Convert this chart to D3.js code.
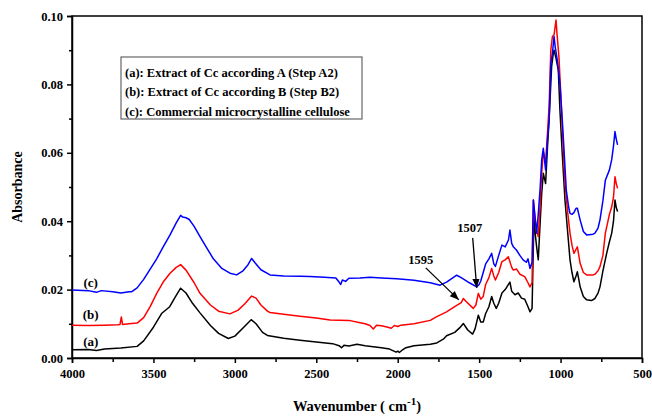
<!DOCTYPE html>
<html>
<head>
<meta charset="utf-8">
<script src="https://cdn.jsdelivr.net/npm/d3@7"></script>
<style>
  body { margin: 0; background: #fff; }
  text { font-family: "Liberation Serif", "Times New Roman", serif; font-weight: bold; }
</style>
</head>
<body>
<script>
const width = 652;
const height = 416;
const margin = {top: 16, right: 10, bottom: 58, left: 72};

// [wavenumber, absorbance]
const curveA = [
  [4000,0.0024],[3900,0.0025],[3850,0.0022],[3800,0.0026],[3700,0.0029],[3600,0.0034],[3560,0.0050],
  [3500,0.0090],[3450,0.0130],[3400,0.0150],[3370,0.0175],[3333,0.0204],[3300,0.0190],[3260,0.0160],
  [3214,0.0132],[3150,0.0095],[3100,0.0072],[3040,0.0057],[3000,0.0064],[2950,0.0088],[2900,0.0112],
  [2870,0.0100],[2830,0.0075],[2800,0.0066],[2700,0.0058],[2600,0.0052],[2500,0.0047],[2400,0.0042],
  [2360,0.0036],[2345,0.0030],[2330,0.0037],[2300,0.0035],[2250,0.0040],[2200,0.0036],[2150,0.0033],
  [2100,0.0030],[2050,0.0026],[2010,0.0017],[2000,0.0020],[1990,0.0016],[1970,0.0024],[1950,0.0030],
  [1900,0.0036],[1800,0.0040],[1760,0.0044],[1720,0.0055],[1700,0.0065],[1650,0.0075],[1620,0.0088],
  [1597,0.0101],[1570,0.0082],[1540,0.0070],[1525,0.0085],[1505,0.0125],[1490,0.0105],[1475,0.0105],
  [1460,0.0130],[1440,0.0150],[1423,0.0180],[1410,0.0160],[1395,0.0145],[1380,0.0160],[1360,0.0190],
  [1340,0.0200],[1320,0.0215],[1311,0.0222],[1300,0.0195],[1280,0.0185],[1260,0.0190],[1240,0.0175],
  [1220,0.0172],[1200,0.0150],[1188,0.0135],[1175,0.0145],[1163,0.0423],[1155,0.0360],[1147,0.0325],
  [1137,0.0287],[1125,0.0400],[1116,0.0480],[1106,0.0540],[1092,0.0510],[1080,0.0620],[1070,0.0700],
  [1055,0.0852],[1045,0.0890],[1040,0.0900],[1028,0.0876],[1014,0.0842],[1004,0.0725],[990,0.0600],
  [973,0.0462],[955,0.0360],[942,0.0287],[930,0.0250],[918,0.0223],[905,0.0240],[897,0.0252],
  [888,0.0230],[880,0.0208],[860,0.0180],[840,0.0170],[810,0.0168],[789,0.0174],[770,0.0190],
  [758,0.0208],[740,0.0255],[717,0.0306],[700,0.0340],[686,0.0365],[675,0.0400],[666,0.0462],
  [658,0.0440],[650,0.0428]
];

const curveB = [
  [4000,0.0096],[3900,0.0095],[3800,0.0096],[3720,0.0097],[3705,0.0098],[3697,0.0120],[3690,0.0098],
  [3650,0.0100],[3600,0.0102],[3560,0.0118],[3520,0.0150],[3480,0.0189],[3440,0.0222],[3398,0.0248],
  [3360,0.0265],[3333,0.0273],[3300,0.0257],[3250,0.0220],[3214,0.0189],[3150,0.0155],[3100,0.0137],
  [3030,0.0129],[2980,0.0140],[2940,0.0158],[2897,0.0181],[2870,0.0175],[2840,0.0155],[2800,0.0137],
  [2784,0.0133],[2700,0.0128],[2600,0.0122],[2500,0.0117],[2416,0.0111],[2300,0.0110],[2230,0.0103],
  [2200,0.0100],[2170,0.0095],[2150,0.0085],[2130,0.0096],[2100,0.0094],[2060,0.0090],[2040,0.0087],
  [2020,0.0095],[2000,0.0092],[1980,0.0096],[1900,0.0100],[1800,0.0110],[1760,0.0121],[1700,0.0135],
  [1650,0.0150],[1610,0.0162],[1597,0.0174],[1580,0.0165],[1536,0.0145],[1520,0.0155],[1505,0.0189],
  [1490,0.0172],[1475,0.0180],[1460,0.0215],[1440,0.0235],[1423,0.0262],[1410,0.0240],[1400,0.0228],
  [1380,0.0250],[1360,0.0282],[1340,0.0287],[1321,0.0296],[1300,0.0265],[1290,0.0257],[1270,0.0260],
  [1250,0.0245],[1220,0.0238],[1200,0.0220],[1188,0.0208],[1175,0.0220],[1167,0.0462],[1158,0.0410],
  [1147,0.0374],[1137,0.0355],[1125,0.0450],[1116,0.0540],[1106,0.0603],[1092,0.0569],[1080,0.0660],
  [1070,0.0740],[1060,0.0900],[1050,0.0940],[1040,0.0945],[1028,0.0988],[1022,0.0949],[1010,0.0880],
  [1004,0.0823],[990,0.0680],[973,0.0511],[955,0.0420],[942,0.0365],[930,0.0330],[918,0.0306],
  [905,0.0318],[897,0.0325],[888,0.0300],[880,0.0277],[860,0.0250],[840,0.0243],[800,0.0243],
  [789,0.0245],[770,0.0255],[758,0.0267],[740,0.0300],[725,0.0365],[700,0.0420],[686,0.0442],
  [675,0.0470],[666,0.0530],[658,0.0510],[650,0.0496]
];

const curveC = [
  [4000,0.0199],[3900,0.0197],[3850,0.0192],[3820,0.0197],[3750,0.0194],[3700,0.0190],[3650,0.0194],
  [3633,0.0194],[3600,0.0205],[3560,0.0230],[3520,0.0260],[3480,0.0290],[3440,0.0325],[3398,0.0360],
  [3360,0.0395],[3333,0.0417],[3320,0.0412],[3300,0.0410],[3280,0.0405],[3250,0.0385],[3214,0.0355],
  [3170,0.0320],[3132,0.0290],[3080,0.0262],[3030,0.0248],[2989,0.0243],[2950,0.0255],[2920,0.0272],
  [2897,0.0291],[2870,0.0275],[2840,0.0258],[2784,0.0243],[2700,0.0240],[2600,0.0239],[2539,0.0238],
  [2450,0.0236],[2380,0.0234],[2360,0.0222],[2350,0.0215],[2340,0.0228],[2320,0.0224],[2300,0.0233],
  [2232,0.0234],[2170,0.0236],[2100,0.0234],[2006,0.0232],[1900,0.0227],[1800,0.0220],[1740,0.0213],
  [1700,0.0222],[1660,0.0235],[1638,0.0242],[1610,0.0235],[1560,0.0220],[1515,0.0208],[1500,0.0215],
  [1490,0.0225],[1475,0.0250],[1460,0.0275],[1440,0.0290],[1423,0.0306],[1410,0.0275],[1400,0.0268],
  [1380,0.0300],[1360,0.0330],[1340,0.0325],[1320,0.0345],[1311,0.0374],[1300,0.0335],[1290,0.0325],
  [1270,0.0315],[1250,0.0300],[1230,0.0287],[1210,0.0280],[1200,0.0290],[1188,0.0262],[1175,0.0280],
  [1167,0.0462],[1158,0.0420],[1147,0.0365],[1137,0.0420],[1125,0.0500],[1116,0.0579],[1106,0.0613],
  [1092,0.0550],[1080,0.0640],[1070,0.0700],[1060,0.0860],[1050,0.0891],[1040,0.0940],[1033,0.0910],
  [1020,0.0871],[1004,0.0803],[990,0.0700],[980,0.0618],[965,0.0491],[950,0.0440],[942,0.0423],
  [930,0.0420],[918,0.0425],[905,0.0438],[897,0.0438],[888,0.0420],[880,0.0404],[860,0.0370],
  [840,0.0360],[800,0.0362],[789,0.0365],[770,0.0380],[758,0.0404],[740,0.0460],[725,0.0520],
  [700,0.0550],[686,0.0580],[675,0.0620],[666,0.0662],[658,0.0640],[650,0.0623]
];

const seriesNames = ["(a)", "(b)", "(c)"];
const seriesColors = ["#000000", "#ff0000", "#0000ff"];
const legendLines = [
  "(a): Extract of Cc according A (Step A2)",
  "(b): Extract of Cc according B (Step B2)",
  "(c): Commercial microcrystalline cellulose"
];
const xMajor = [4000, 3500, 3000, 2500, 2000, 1500, 1000, 500];
const yMajor = [0, 0.02, 0.04, 0.06, 0.08, 0.10];
// peak annotations: label, wavenumber, absorbance at the arrow tip
const peaks = [
  {label: "1595", wn: 1625, abs: 0.0170, dx: -33, dy: -32, tx: -5, ty: -4},
  {label: "1507", wn: 1515, abs: 0.0205, dx: -4, dy: -50, tx: -3, ty: -6}
];

const svg = d3.select("body").append("svg")
  .attr("width", width)
  .attr("height", height);

const x = d3.scaleLinear().domain([4000, 500]).range([margin.left, width - margin.right]);
const y = d3.scaleLinear().domain([0, 0.10]).range([height - margin.bottom, margin.top]);

// plot frame
svg.append("rect")
  .attr("x", x(4000)).attr("y", y(0.10))
  .attr("width", x(500) - x(4000)).attr("height", y(0) - y(0.10))
  .attr("fill", "none").attr("stroke", "#000").attr("stroke-width", 1.5);

// minor ticks
svg.append("g")
  .attr("transform", `translate(0,${y(0)})`)
  .call(d3.axisBottom(x).tickValues(d3.range(3750, 500, -500)).tickSize(4).tickFormat(""))
  .call(g => g.select(".domain").remove())
  .call(g => g.selectAll("line").attr("stroke-width", 1.5));
svg.append("g")
  .attr("transform", `translate(${x(4000)},0)`)
  .call(d3.axisLeft(y).tickValues([0.01, 0.03, 0.05, 0.07, 0.09]).tickSize(3).tickFormat(""))
  .call(g => g.select(".domain").remove())
  .call(g => g.selectAll("line").attr("stroke-width", 1.5));

// major axes
svg.append("g")
  .attr("transform", `translate(0,${y(0)})`)
  .call(d3.axisBottom(x).tickValues(xMajor).tickSize(5).tickPadding(6).tickFormat(d3.format("d")))
  .call(g => g.select(".domain").attr("stroke-width", 1.5))
  .call(g => g.selectAll("line").attr("stroke-width", 1.5))
  .call(g => g.selectAll("text").attr("font-family", null).attr("font-size", 12.5).attr("fill", "#000"));
svg.append("g")
  .attr("transform", `translate(${x(4000)},0)`)
  .call(d3.axisLeft(y).tickValues(yMajor).tickSize(5).tickPadding(4).tickFormat(d3.format(".2f")))
  .call(g => g.select(".domain").attr("stroke-width", 1.5))
  .call(g => g.selectAll("line").attr("stroke-width", 1.5))
  .call(g => g.selectAll("text").attr("font-family", null).attr("font-size", 12.5).attr("fill", "#000"));

// axis titles
svg.append("text")
  .attr("transform", `translate(22,${(y(0) + y(0.1)) / 2}) rotate(-90)`)
  .attr("text-anchor", "middle")
  .attr("font-size", 14)
  .text("Absorbance");

const xt = svg.append("text")
  .attr("x", (x(4000) + x(500)) / 2)
  .attr("y", 411)
  .attr("text-anchor", "middle")
  .attr("font-size", 14.5);
xt.append("tspan").text("Wavenumber ( cm");
xt.append("tspan").attr("dy", -6).attr("font-size", 11).text("-1");
xt.append("tspan").attr("dy", 6).text(")");

// spectra
const line = d3.line().x(d => x(d[0])).y(d => y(d[1]));
[curveA, curveB, curveC].forEach((c, i) => {
  svg.append("path")
    .datum(c)
    .attr("fill", "none")
    .attr("stroke", seriesColors[i])
    .attr("stroke-width", 1.5)
    .attr("stroke-linejoin", "round")
    .attr("d", line);
});

// curve labels
const labelPos = [0.0048, 0.0126, 0.0220];
seriesNames.forEach((s, i) => {
  svg.append("text")
    .attr("x", x(3885))
    .attr("y", y(labelPos[i]) + 4.5)
    .attr("text-anchor", "middle")
    .attr("font-size", 13)
    .text(s);
});

// legend
const lg = svg.append("g").attr("transform", "translate(121,57)");
lg.append("rect")
  .attr("width", 241).attr("height", 62)
  .attr("fill", "#fff").attr("stroke", "#666").attr("stroke-width", 1.2);
legendLines.forEach((t, i) => {
  lg.append("text")
    .attr("x", 4)
    .attr("y", 19.5 + i * 19.5)
    .attr("font-size", 12.5)
    .text(t);
});

// arrows to the peaks
svg.append("defs").append("marker")
  .attr("id", "head")
  .attr("viewBox", "0 0 10 10")
  .attr("refX", 10).attr("refY", 5)
  .attr("markerWidth", 7).attr("markerHeight", 7)
  .attr("orient", "auto")
  .append("path").attr("d", "M0,1 L10,5 L0,9 Z").attr("fill", "#000");

peaks.forEach(p => {
  const px = x(p.wn), py = y(p.abs);
  svg.append("line")
    .attr("x1", px + p.dx).attr("y1", py + p.dy)
    .attr("x2", px).attr("y2", py)
    .attr("stroke", "#000").attr("stroke-width", 1.3)
    .attr("marker-end", "url(#head)");
  svg.append("text")
    .attr("x", px + p.dx + p.tx)
    .attr("y", py + p.dy + p.ty)
    .attr("text-anchor", "middle")
    .attr("font-family", "'Liberation Sans', Arial, sans-serif")
    .attr("font-size", 12.5)
    .text(p.label);
});
</script>
</body>
</html>
